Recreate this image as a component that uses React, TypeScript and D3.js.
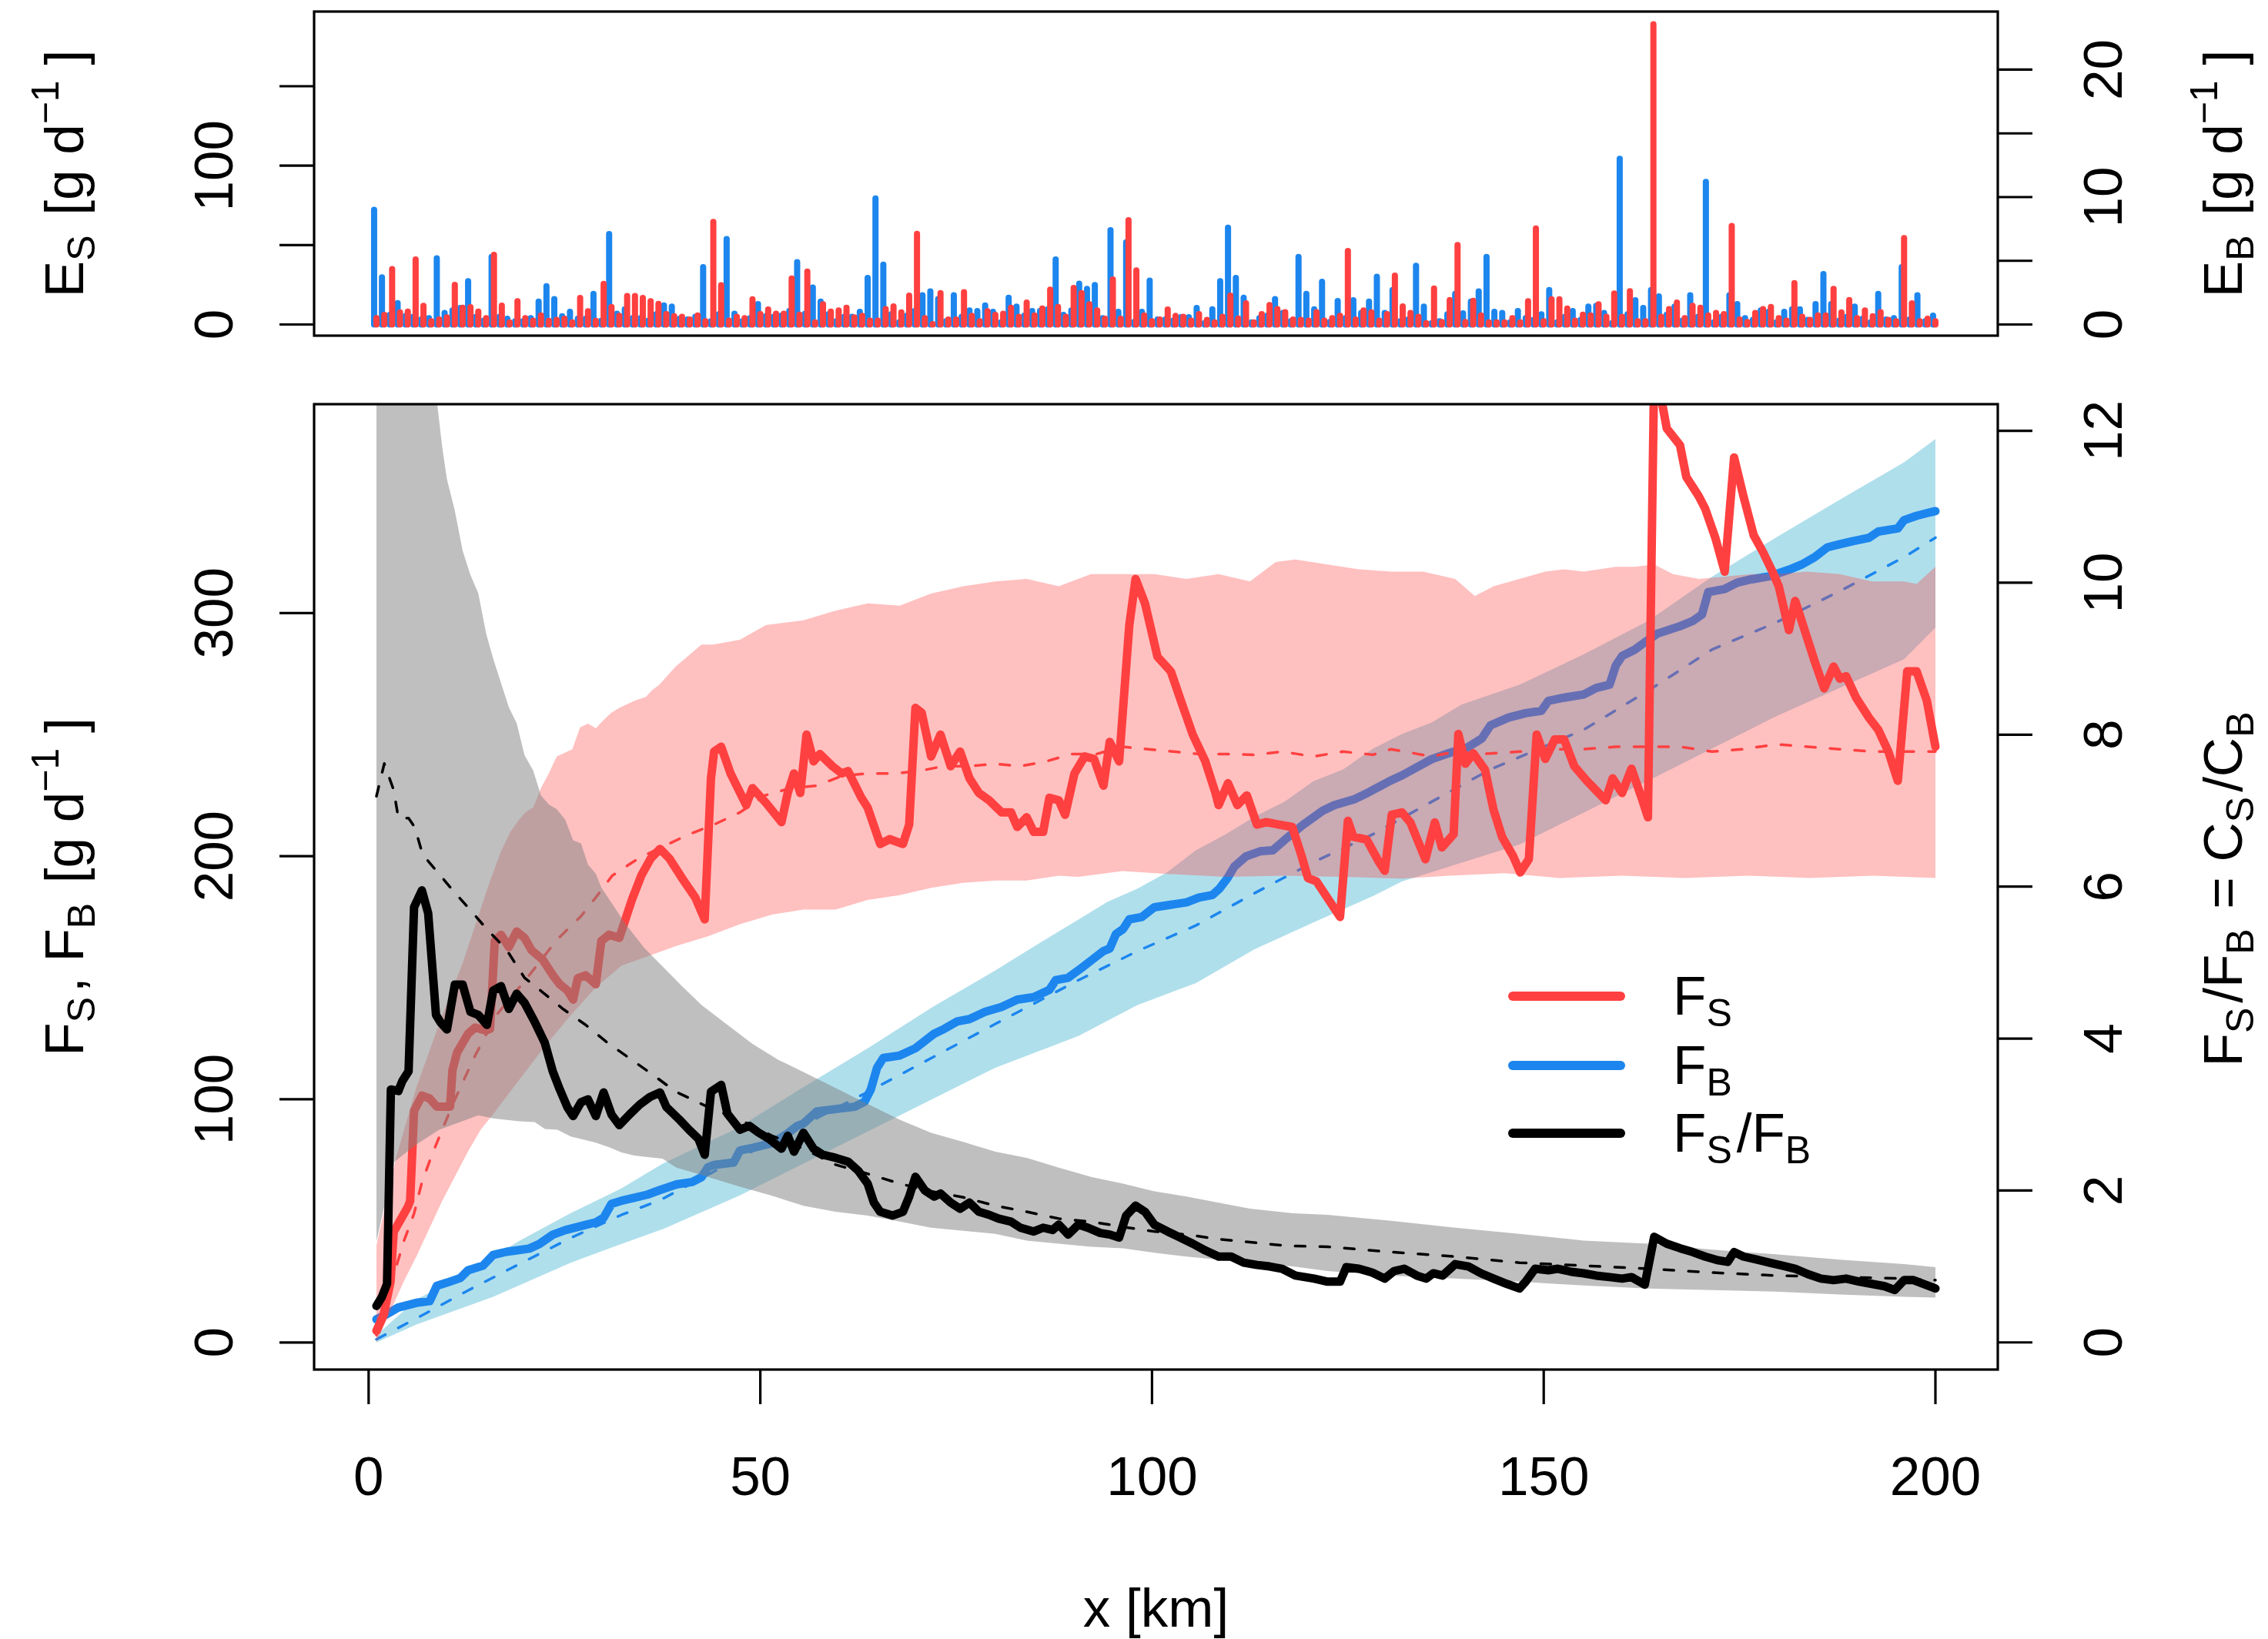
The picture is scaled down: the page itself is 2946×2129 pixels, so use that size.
import React from "react";
import * as d3 from "d3";

type Pt = [number, number];

// ---- Upper panel: daily inputs at each km (E_S on the left axis, E_B on the right axis)
const kmSteps: number[] = d3.range(1, 201);

const inputS: number[] = [
  4, 6, 34.9, 7.6, 8.1, 40.9, 11.7, 2, 3.2, 4.5,
  25, 10.5, 10.9, 8.1, 4, 43.8, 11.9, 1.3, 14.6, 4,
  2.4, 5.7, 2.3, 2.9, 3.6, 1.3, 16.7, 8.4, 2.3, 25.6,
  11, 5.4, 17.9, 17.9, 16.7, 14.6, 13, 6.5, 5.2, 4.9,
  3.2, 5.7, 2, 64.6, 24.7, 2.4, 4.9, 4, 15.9, 6.5,
  9.4, 6.8, 6.8, 28.9, 6.2, 33.3, 1.3, 12.7, 8.1, 8.9,
  10.5, 4.5, 5.4, 2.4, 2.4, 9.7, 11.4, 7.6, 18.2, 57.1,
  4, 0.3, 19.8, 3.2, 3.2, 20.3, 5.4, 2, 8.4, 6,
  6.8, 10.5, 4.9, 13.8, 5.7, 10, 21.9, 11, 4.9, 23,
  19.8, 12.7, 8.9, 3.6, 28.4, 3.6, 65.7, 34.1, 5.7, 2,
  3.2, 9.4, 5.4, 4.9, 2.4, 6.5, 2.9, 1.3, 4.9, 18.2,
  3.7, 13.3, 1.3, 6.5, 12.2, 9.7, 7.8, 3.2, 2.9, 2.4,
  7.8, 2.4, 4, 5.4, 46.3, 3.2, 8.9, 7.6, 2.4, 6.5,
  30.8, 11.4, 7.3, 4.9, 0.8, 22.7, 1.6, 15.4, 50, 1.6,
  14.9, 5.7, 1.3, 1.3, 1.3, 4, 1.3, 14.6, 60.4, 2,
  15.9, 15.9, 10, 2.4, 6.2, 5.7, 12.7, 4.9, 19.5, 4.9,
  21, 2, 2, 189, 4.9, 9.7, 13.8, 4, 11.7, 10.5,
  5.7, 7.3, 6.5, 62, 3.2, 1.6, 7.3, 9.7, 11, 4,
  2.4, 26, 4.9, 2.9, 5.7, 5.7, 22.4, 7.6, 15.4, 4,
  8.9, 5.2, 7.8, 2.9, 2, 54.4, 13.3, 2, 3.6, 2,
];

const inputB: number[] = [
  9.0, 3.7, 0.75, 1.68, 0.67, 0.6, 0.4, 0.5, 5.2, 0.9,
  1.1, 1.3, 3.4, 0.6, 0.3, 5.3, 0.6, 0.45, 0.25, 0.25,
  0.5, 1.8, 3.0, 2.0, 0.65, 1.0, 0.45, 0.45, 2.4, 0.3,
  7.1, 0.85, 1.2, 0.5, 0.5, 0.3, 0.8, 1.5, 1.4, 0.45,
  0.4, 0.6, 4.5, 0.25, 0.8, 6.7, 0.85, 0.25, 0.5, 1.6,
  0.65, 0.6, 0.7, 1.05, 4.9, 0.85, 2.9, 1.8, 0.8, 0.25,
  0.6, 0.6, 1.0, 3.65, 9.9, 4.7, 0.8, 0.16, 0.7, 1.05,
  2.3, 2.6, 2.0, 0.25, 2.3, 0.6, 1.1, 1.05, 1.5, 1.0,
  0.16, 2.1, 1.4, 0.7, 1.05, 1.05, 1.2, 5.1, 0.75, 1.1,
  3.2, 2.8, 3.1, 0.5, 7.4, 1.0, 6.45, 0.2, 1.0, 3.45,
  0.4, 0.4, 0.3, 0.57, 0.57, 1.3, 0.1, 1.2, 3.4, 7.6,
  3.65, 2.1, 0.16, 0.5, 0.7, 2.0, 0.9, 0.25, 5.3, 2.4,
  1.2, 3.35, 0.2, 1.85, 0.5, 1.9, 0.9, 1.8, 3.75, 0.9,
  2.7, 0.25, 0.4, 4.6, 1.4, 0.1, 0.25, 0.8, 2.4, 0.87,
  1.8, 2.6, 5.3, 1.0, 0.9, 0.16, 1.05, 0.5, 0.37, 0.8,
  2.7, 0.16, 0.6, 1.05, 0.37, 1.4, 1.46, 0.9, 0.1, 13.0,
  0.8, 1.9, 1.3, 2.7, 2.2, 0.77, 1.4, 0.3, 2.3, 0.6,
  11.2, 0.16, 0.6, 2.3, 1.6, 0.5, 0.37, 1.1, 1.0, 0.16,
  1.0, 1.2, 1.2, 0.37, 1.6, 3.95, 1.6, 0.3, 0.6, 1.4,
  0.45, 0.16, 2.4, 0.4, 0.5, 4.5, 0.4, 2.3, 0.25, 0.7,
];

// ---- Lower panel: observed fluxes F_S, F_B (left axis) and their ratio (right axis)
const fluxS: Pt[] = [
  [1, 4.8], [1.9, 11.2], [2.8, 25], [3.2, 45.5], [4.1, 50.6], [5.0, 55.7], [5.3, 58.2], [5.8, 95.2],
  [6.8, 101.5], [7.8, 100.3], [8.7, 97], [10.4, 97], [10.7, 112], [11.3, 119.3], [12.7, 127], [13.6, 129.5],
  [15.0, 128.3], [15.5, 129], [16.1, 165.1], [16.9, 167.7], [17.9, 162.6], [18.9, 169], [19.9, 166.4],
  [20.8, 161.3], [22.2, 157.5], [23.5, 151.1], [24.4, 147.3], [25.4, 144.7], [26.1, 141], [26.7, 149.8],
  [27.7, 151], [29.0, 147.3], [29.7, 165.1], [30.7, 167.7], [32.0, 166.4], [33.6, 182], [34.8, 192],
  [36, 199], [37.2, 203], [38.4, 199], [40, 191], [41.7, 183], [42.9, 174], [43.7, 232], [44.1, 243],
  [45, 245], [46.2, 234], [48.2, 221], [49, 228], [50.7, 222], [52.7, 214], [53.5, 226], [54.3, 234],
  [55.1, 226], [55.9, 250], [56.8, 239], [57.6, 242], [59.2, 237], [60.4, 234], [61.2, 235], [62.9, 224],
  [63.7, 220], [65.3, 205], [66.5, 207], [68.2, 205], [69, 213], [69.8, 261], [70.6, 259], [71.8, 241],
  [73, 250], [74.3, 237], [75.5, 243], [76.7, 232], [77.9, 226], [79.2, 223], [80.8, 218], [82, 218],
  [82.8, 212], [84, 216], [84.9, 210], [86.1, 210], [86.9, 224], [88.1, 223], [88.9, 217], [90.1, 234],
  [91.4, 241], [92.6, 240], [93.8, 229], [94.6, 247], [95.8, 239], [97.1, 295], [97.9, 314], [99.1, 304],
  [100.7, 282], [102.4, 276], [104, 261], [105.2, 250], [106.8, 239], [108.1, 226], [108.5, 221],
  [109.7, 230], [110.9, 221], [112.1, 225], [113.4, 213], [114.6, 214], [116.2, 213], [117.9, 212],
  [119.1, 200], [119.9, 191], [121, 189.6], [122.5, 182.3], [124, 175], [125, 214.5], [125.7, 208],
  [127.4, 206.8], [128.9, 198], [129.7, 194], [130.6, 217], [131.9, 218], [133, 213.7], [134.9, 198.7],
  [136.1, 213.9], [137, 203.6], [138.5, 209], [139.1, 250.2], [140, 238], [141, 242.3], [142.5, 235.6],
  [143.6, 219], [144.7, 207.8], [146.1, 200], [147, 193.3], [148.1, 198.8], [149.1, 250], [150.2, 240],
  [151.4, 248], [152.6, 248], [153.9, 237], [155.5, 231], [156.7, 227], [157.9, 223], [158.8, 232],
  [160, 226], [161.2, 236], [162.5, 224], [163.3, 216], [164.1, 400], [164.9, 390], [165.7, 376],
  [167.4, 369], [168.2, 356], [169.8, 348], [170.6, 343], [171.9, 331], [173.1, 317], [174.3, 364],
  [175.5, 348], [176.8, 332], [178, 325], [179.2, 317], [180, 311], [181.3, 293], [182.1, 305],
  [183.3, 293], [184.6, 280], [185.8, 269], [187, 278], [187.8, 273], [188.6, 274], [189.9, 265],
  [191.5, 257], [192.7, 252], [194, 243], [195.2, 231], [196.4, 276], [197.6, 276], [198.9, 264], [200, 245],
];

const fluxB: Pt[] = [
  [1, 9.5], [2.2, 11.4], [3.8, 14.4], [6.1, 16.3], [7.8, 17], [8.7, 23.3], [10, 24.6], [11.7, 26.5],
  [12.7, 29.7], [14.6, 31.6], [15.9, 36], [17.6, 37.3], [19.2, 38], [20.5, 38.6], [21.8, 40.5], [23.5, 44.3],
  [25.1, 46.2], [27.4, 48.1], [29, 49.4], [30, 51.3], [31, 57], [32.3, 58.3], [33.9, 59.5], [35.6, 60.8],
  [37.2, 62.7], [39.3, 65], [41.3, 66], [42.5, 68], [43.3, 72], [44.1, 73], [46.6, 74], [47.4, 79],
  [49, 80], [51.5, 82], [53.5, 86], [54.7, 89], [55.5, 90], [57.2, 95], [59.6, 96], [62.1, 97],
  [63.3, 99], [64.1, 104], [64.9, 113], [65.7, 117], [67.8, 118], [69.8, 121], [71, 124], [72.2, 127],
  [73.5, 129], [75.1, 132], [76.7, 133], [78.7, 136], [80.8, 138], [82.8, 141], [84.9, 142], [86.9, 145],
  [87.7, 149], [89.3, 150], [91, 154], [92.6, 158], [93.8, 161], [94.6, 162], [95.4, 168], [96.3, 170],
  [97.1, 174], [98.7, 175], [100.3, 179], [102.4, 180], [104.4, 181], [106, 183], [107.7, 184],
  [108.6, 186.6], [109.6, 190.8], [110.5, 195.7], [112, 199.9], [113.8, 202], [115.4, 202.4],
  [116.9, 206.6], [119.2, 212.7], [121.8, 218.7], [123.3, 221], [125.9, 223.5], [127.5, 226],
  [128.9, 228.4], [130.4, 231], [131.9, 233.2], [135.7, 239.9], [137.9, 242.4], [140.3, 244.8],
  [142.1, 248.4], [143.2, 253.8], [145.5, 257], [147.7, 258.8], [149.7, 259.8], [150.6, 263.9],
  [152.6, 265.2], [155.1, 266.5], [156.7, 269.2], [158.4, 270.5], [159.2, 278.4], [160, 282.3],
  [161.6, 284.9], [163.3, 288.9], [164.5, 291.5], [167.4, 294.6], [169, 296.7], [170.2, 299.4],
  [171, 308.6], [173.1, 309.9], [174.7, 312.5], [176.4, 313.8], [178.8, 315.1], [181.3, 317.8],
  [182.9, 319.9], [184.6, 323], [186.2, 327], [187.8, 328.3], [189.5, 329.6], [191.5, 330.9],
  [192.7, 333.5], [195.2, 334.8], [196, 338.2], [197.6, 340], [199.3, 341.4], [200, 341.9],
];

const ratioSB: Pt[] = [
  [1, 0.48], [1.7, 0.6], [2.35, 0.77], [2.84, 3.33], [3.8, 3.31], [4.3, 3.44], [5.1, 3.57], [5.8, 5.73],
  [6.8, 5.95], [7.6, 5.65], [8.6, 4.31], [9.2, 4.21], [10, 4.12], [11, 4.71], [12, 4.71], [13, 4.35],
  [14, 4.31], [15.1, 4.18], [15.9, 4.63], [16.9, 4.69], [17.9, 4.39], [18.9, 4.59], [19.9, 4.47],
  [21.2, 4.22], [22.5, 3.94], [23.5, 3.57], [24.4, 3.33], [25.4, 3.09], [26.1, 2.98], [27.1, 3.16],
  [28, 3.2], [29, 2.98], [30, 3.29], [31, 3.0], [32, 2.86], [33.3, 3.0], [34.6, 3.13], [35.9, 3.23],
  [37.2, 3.29], [38, 3.1], [39.7, 2.93], [40.9, 2.8], [42.1, 2.68], [42.9, 2.47], [43.7, 3.3], [45, 3.39],
  [45.8, 3.01], [47.4, 2.8], [48.6, 2.85], [49.8, 2.76], [51.1, 2.68], [52.7, 2.55], [53.5, 2.72],
  [54.3, 2.51], [55.5, 2.76], [56.8, 2.55], [58, 2.47], [59.6, 2.43], [61.2, 2.38], [62.5, 2.26],
  [63.7, 2.09], [64.5, 1.84], [65.3, 1.72], [66.9, 1.67], [68.2, 1.72], [69, 1.92], [69.8, 2.18],
  [71, 2.0], [72.2, 1.92], [73, 1.96], [74.3, 1.84], [75.5, 1.76], [76.7, 1.84], [77.9, 1.72],
  [79.2, 1.68], [80.4, 1.63], [82, 1.59], [83.2, 1.51], [84.9, 1.46], [86.1, 1.51], [87.3, 1.48],
  [88.1, 1.55], [89.3, 1.42], [90.6, 1.55], [91.8, 1.51], [93.4, 1.44], [94.6, 1.42], [95.8, 1.38],
  [96.7, 1.67], [97.9, 1.8], [99.1, 1.72], [100.3, 1.55], [102, 1.46], [103.6, 1.38], [105.2, 1.3],
  [106.8, 1.21], [108.5, 1.13], [110.1, 1.13], [111.7, 1.05], [113.4, 1.02], [115, 1.0], [116.6, 0.97],
  [118.3, 0.88], [120.7, 0.84], [122.4, 0.8], [124, 0.8], [124.8, 0.99], [126.4, 0.97], [128.1, 0.92],
  [129.7, 0.84], [130.9, 0.94], [132.2, 0.97], [133.8, 0.88], [135, 0.84], [135.9, 0.91], [137.1, 0.88],
  [138.7, 1.03], [140.4, 1.0], [142, 0.91], [143.6, 0.84], [145.3, 0.77], [146.9, 0.71], [147.7, 0.8],
  [148.9, 0.97], [150.6, 0.95], [151.8, 0.97], [153.5, 0.93], [155.1, 0.91], [156.7, 0.88], [158.4, 0.86],
  [160, 0.84], [161.2, 0.86], [162.9, 0.76], [164.1, 1.39], [165.7, 1.3], [167.4, 1.24], [169, 1.19],
  [170.6, 1.13], [172.3, 1.08], [173.5, 1.06], [174.3, 1.19], [175.5, 1.13], [177.2, 1.09], [178.8, 1.05],
  [180.5, 1.01], [182.1, 0.97], [183.7, 0.9], [185.4, 0.84], [187, 0.82], [188.6, 0.84], [190.3, 0.8],
  [191.9, 0.77], [193.5, 0.74], [194.8, 0.69], [196, 0.82], [197.2, 0.82], [198.5, 0.77], [200, 0.71],
];

// ---- Ensemble means (dashed)
const meanS: Pt[] = [
  [1, 3], [1.2, 6.1], [4.5, 41.7], [5.8, 53], [6.8, 65.9], [8.1, 77.3], [9.4, 87.5], [10.7, 97.7],
  [12.3, 109], [13.6, 118], [16.3, 134.6], [19.9, 148.6], [24.1, 165.8], [27.1, 175.3], [29, 183],
  [31.1, 192], [34.4, 199], [37.6, 204], [40.9, 209], [44.1, 213], [47.4, 218], [50.6, 225], [53.9, 228],
  [57.2, 229], [60.4, 233], [63.7, 234], [67, 234], [70.2, 235], [73.4, 237], [76.7, 237], [79.9, 238],
  [83.2, 237], [86.5, 239], [89.7, 242], [92.9, 242], [96.2, 245], [99.5, 244], [102.7, 243], [106, 242],
  [109.2, 242], [113.1, 241.7], [116.6, 243], [120.6, 241], [124.4, 243], [128.2, 241.7], [130.5, 244],
  [135.7, 241], [138.7, 243], [142, 242], [146.9, 243], [151, 244], [155.1, 244], [159.2, 245],
  [163.3, 245], [167.4, 245], [171.5, 243], [175.5, 244], [179.6, 246], [183.7, 245], [187.8, 244],
  [191.9, 243], [196, 243], [200, 243],
];

const meanB: Pt[] = [
  [1, 1.3], [6.1, 9.9], [12.7, 21.4], [19.2, 32.2], [25.8, 43], [32.3, 52.5], [37.2, 58.5], [47.4, 76],
  [63.7, 103], [80, 131], [90.6, 149], [98.1, 160.9], [105.6, 171.5], [113.1, 184.8], [120.6, 197.5],
  [128.2, 209], [135.7, 222.4], [143.2, 235.7], [150, 245], [155.1, 252], [163.3, 268], [171.5, 285],
  [179.6, 296], [187.8, 309], [196, 323], [200, 331],
];

const meanRatio: Pt[] = [
  [1, 7.19], [2, 7.62], [3.2, 7.27], [3.8, 6.9], [5.1, 6.9], [5.9, 6.78], [6.9, 6.42], [8.8, 6.19],
  [10.5, 5.98], [13, 5.69], [15, 5.45], [17.6, 5.17], [19.9, 4.8], [22.2, 4.61], [24.8, 4.39],
  [27.7, 4.18], [30.3, 3.96], [33.3, 3.74], [36.2, 3.53], [39.2, 3.3], [43.3, 3.1], [47.4, 2.93],
  [51.5, 2.72], [55.5, 2.55], [59.6, 2.34], [63.7, 2.22], [67.8, 2.09], [71.8, 1.99], [75.9, 1.91],
  [80, 1.8], [84, 1.72], [88.1, 1.63], [92.2, 1.59], [96.3, 1.52], [100.4, 1.46], [104.4, 1.42],
  [108.5, 1.36], [112.5, 1.32], [117.4, 1.27], [122.4, 1.26], [130.5, 1.19], [138.7, 1.13],
  [146.9, 1.05], [155.1, 1.01], [163.3, 0.97], [171.5, 0.92], [179.6, 0.88], [187.8, 0.86],
  [196, 0.84], [200, 0.82],
];

// ---- Ensemble envelopes (upper / lower edges)
const bandSUpper: Pt[] = [
  [1, 40], [3.5, 76], [6.1, 105], [9.4, 134.6], [12, 156], [15.3, 188], [16.9, 202], [18.1, 210],
  [19.2, 215], [20, 218], [21, 220], [22, 228], [23, 234], [24, 241], [25, 242.5], [26, 244], [27, 253],
  [28, 254.5], [29, 252.6], [30, 256], [31, 259], [32, 261], [34, 264], [35.4, 265.5], [36.1, 268],
  [37.1, 270.5], [39.2, 278], [42.5, 287], [44, 287], [47.4, 289], [50.7, 295], [55.5, 297], [59.6, 301],
  [63.7, 304], [67.8, 303], [71.8, 308], [75.9, 311], [80, 313], [84, 314], [88.1, 311], [92.2, 316],
  [96.3, 316], [100.3, 316], [104.4, 314], [108.5, 316], [112.5, 313], [115.8, 321], [118.3, 322],
  [122.4, 320], [126.4, 318], [130.5, 317], [134.6, 317], [138.7, 314], [141.2, 307], [143.6, 311],
  [146.9, 314], [150.2, 317], [152.6, 318], [155.1, 317], [159.2, 319], [161.6, 319], [164.1, 320],
  [166.5, 316], [169.8, 314], [173.1, 315], [176.4, 316], [179.6, 316], [183.7, 317], [187.8, 316],
  [191.9, 313], [196, 313], [197.6, 312], [200, 319],
];
const bandSLower: Pt[] = [
  [1, 0], [4.5, 25.2], [6.1, 35.4], [9.4, 58.3], [12.7, 78.6], [14.3, 87.5], [15.9, 93.9], [18.6, 105.4],
  [22.5, 121.8], [25.8, 134.6], [29, 146], [32.3, 155], [35.6, 158.8], [39.2, 163], [43.3, 167],
  [47.4, 172], [51.5, 176], [55.5, 178], [59.6, 178], [63.7, 182], [67.8, 184], [71.8, 187], [75.9, 189],
  [80, 190], [84, 190], [88.1, 192], [90.6, 191.5], [96.2, 193.9], [101.9, 192.7], [109.4, 191.5],
  [116.9, 192], [124.4, 191.5], [131.9, 190.8], [138, 192], [145, 193], [152, 191], [160, 192],
  [168, 191], [176, 192], [184, 191], [192, 192], [200, 191],
];
const bandBUpper: Pt[] = [
  [1, 3], [6.1, 17.7], [12.7, 29], [19.2, 41.7], [25.8, 53.2], [32.3, 63.4], [37.5, 73.5], [47, 88],
  [55, 104], [63.7, 121], [72, 138], [80, 153], [86, 165], [90.6, 173.9], [94.3, 181.2], [98.1, 186.6],
  [101.9, 193.3], [105.6, 202.4], [109.4, 209], [113.1, 216.3], [116.9, 222.4], [120.6, 230.8],
  [124.4, 235.7], [128.2, 244.2], [131.9, 250.2], [135.7, 255], [139.5, 262.3], [146.9, 270.5],
  [155.1, 283], [163.3, 296.7], [171.5, 315], [179.6, 331], [187.8, 346.6], [196, 362], [200, 371.6],
];
const bandBLower: Pt[] = [
  [1, 0], [6.1, 7.4], [15.9, 18.8], [25.8, 32.8], [32.3, 40.5], [37.7, 46.8], [47.4, 60.5], [63.7, 86.8],
  [80, 113], [90.6, 126], [98.1, 138.7], [105.6, 147.8], [113.1, 161.7], [120.6, 172.7], [128.2, 183.6],
  [131.9, 189.6], [146.9, 204.8], [163.3, 231], [179.6, 257.4], [196, 281], [200, 294],
];
const bandRUpper: Pt[] = [
  [1, 30], [5, 18], [8.7, 12.4], [9.4, 11.78], [10, 11.36], [11, 10.95], [12, 10.42], [13, 10.1],
  [14, 9.86], [15, 9.33], [15.9, 9.0], [16.9, 8.68], [17.9, 8.36], [18.9, 8.15], [19.9, 7.73], [21, 7.53],
  [22, 7.2], [23, 7.08], [24, 7.02], [25.1, 6.88], [26.1, 6.61], [27.1, 6.57], [28, 6.29], [29, 6.17],
  [29.7, 5.99], [31.1, 5.77], [32.7, 5.52], [35.2, 5.19], [37.6, 4.94], [40, 4.69], [42.5, 4.44],
  [45.8, 4.18], [49, 3.93], [52.3, 3.72], [55.5, 3.56], [59.6, 3.35], [63.7, 3.14], [67.8, 2.93],
  [71.8, 2.76], [75.9, 2.64], [80, 2.51], [84, 2.43], [88.1, 2.3], [92.2, 2.18], [96.3, 2.09],
  [100.3, 1.99], [104.4, 1.92], [108.5, 1.84], [112.5, 1.76], [118, 1.7], [122.4, 1.68], [130.5, 1.6],
  [138.7, 1.51], [146.9, 1.43], [155.1, 1.34], [163.3, 1.3], [171.5, 1.22], [179.6, 1.16],
  [187.8, 1.09], [196, 1.03], [200, 0.99],
];
const bandRLower: Pt[] = [
  [1, 1.33], [3.3, 2.38], [6, 2.6], [9, 2.8], [14, 2.99], [15.9, 2.95], [19.2, 2.91], [21.2, 2.9],
  [22.5, 2.81], [24.1, 2.8], [25.8, 2.71], [27.4, 2.67], [29, 2.63], [30.7, 2.57], [32.3, 2.5],
  [33.9, 2.46], [35.6, 2.44], [37.5, 2.42], [39.3, 2.3], [43.3, 2.18], [47.4, 2.05], [51.5, 1.93],
  [55.5, 1.8], [59.6, 1.72], [63.7, 1.67], [67.8, 1.59], [71.8, 1.51], [75.9, 1.47], [80, 1.43],
  [84, 1.34], [88.1, 1.3], [92.2, 1.26], [96.3, 1.24], [100.3, 1.18], [104.4, 1.13], [108.5, 1.09],
  [112.5, 1.05], [118, 1.0], [122.4, 0.94], [130.5, 0.88], [138.7, 0.84], [146.9, 0.8], [155.1, 0.75],
  [163.3, 0.71], [171.5, 0.69], [179.6, 0.67], [187.8, 0.63], [196, 0.6], [200, 0.59],
];

// ---- Axis ticks
const xTicks = [0, 50, 100, 150, 200];
const topLeftTicks = [0, 50, 100, 150];
const topLeftLabels = [0, 100];
const topRightTicks = [0, 5, 10, 15, 20];
const topRightLabels = [0, 10, 20];
const botLeftTicks = [0, 100, 200, 300];
const botRightTicks = [0, 2, 4, 6, 8, 10, 12];

const RED = "#FF4040";
const BLUE = "#1C86EE";
const FONT = "'Liberation Sans', Arial, Helvetica, sans-serif";
const FS = 71;
const FSS = 50;

function Sub({ t }: { t: string }) {
  return (
    <>
      <tspan fontSize={FSS} dy={15}>{t}</tspan>
      <tspan dy={-15}>{"\u200A"}</tspan>
    </>
  );
}

export default function App() {
  const W = 2946;
  const H = 2129;
  const L = 408;
  const R = 2595;
  const topT = 15;
  const topB = 436;
  const botT = 525;
  const botB = 1779;
  const tick = 45;

  const x = d3.scaleLinear().domain([-6.96, 207.96]).range([L, R]);
  const yS = d3.scaleLinear().domain([-7.03, 197.0]).range([topB, topT]);
  const yB = d3.scaleLinear().domain([-0.876, 24.56]).range([topB, topT]);
  const yF = d3.scaleLinear().domain([-11.15, 385.9]).range([botB, botT]);
  const yR = d3.scaleLinear().domain([-0.357, 12.35]).range([botB, botT]);

  const lineF = d3.line<Pt>().x((d) => x(d[0])).y((d) => yF(d[1]));
  const lineR = d3.line<Pt>().x((d) => x(d[0])).y((d) => yR(d[1]));
  const bandPath = (up: Pt[], lo: Pt[], gen: d3.Line<Pt>) =>
    (gen([...up, ...lo.slice().reverse()]) || "") + "Z";

  const dash = "13 19";

  const rotLabel = (tx: number, ty: number, content: React.ReactNode, key?: string | number) => (
    <text
      key={key}
      transform={`translate(${tx},${ty}) rotate(-90)`}
      textAnchor="middle"
      fontSize={FS}
    >
      {content}
    </text>
  );

  return (
    <svg
      width={W}
      height={H}
      viewBox={`0 0 ${W} ${H}`}
      style={{ position: "absolute", left: 0, top: 0, background: "#fff" }}
      fontFamily={FONT}
    >
      <defs>
        <clipPath id="clipTop">
          <rect x={L} y={topT} width={R - L} height={topB - topT} />
        </clipPath>
        <clipPath id="clipBot">
          <rect x={L} y={botT} width={R - L} height={botB - botT} />
        </clipPath>
      </defs>
      <rect x={0} y={0} width={W} height={H} fill="#fff" />

      {/* upper panel: daily inputs */}
      <g clipPath="url(#clipTop)" strokeLinecap="round">
        {kmSteps.map((k, i) => (
          <line key={`b${k}`} x1={x(k - 0.3)} x2={x(k - 0.3)} y1={yB(0)} y2={yB(inputB[i])} stroke={BLUE} strokeWidth={8} />
        ))}
        {kmSteps.map((k, i) => (
          <line key={`s${k}`} x1={x(k)} x2={x(k)} y1={yS(0)} y2={yS(inputS[i])} stroke={RED} strokeWidth={8} />
        ))}
      </g>
      <rect x={L} y={topT} width={R - L} height={topB - topT} fill="none" stroke="#000" strokeWidth={3.2} />
      {topLeftTicks.map((v) => (
        <line key={`tl${v}`} x1={L - tick} x2={L} y1={yS(v)} y2={yS(v)} stroke="#000" strokeWidth={3.2} />
      ))}
      {topLeftLabels.map((v) => rotLabel(302, yS(v), String(v), `tll${v}`))}
      {topRightTicks.map((v) => (
        <line key={`tr${v}`} x1={R} x2={R + tick} y1={yB(v)} y2={yB(v)} stroke="#000" strokeWidth={3.2} />
      ))}
      {topRightLabels.map((v) => rotLabel(2756, yB(v), String(v), `trl${v}`))}
      {rotLabel(108, (topT + topB) / 2, (
        <>
          E<Sub t="S" /> [g d<tspan fontSize={FSS} dy={-32}>{"\u2212"}1</tspan>
          <tspan dy={32}> ]</tspan>
        </>
      ))}
      {rotLabel(2912, (topT + topB) / 2, (
        <>
          E<Sub t="B" /> [g d<tspan fontSize={FSS} dy={-32}>{"\u2212"}1</tspan>
          <tspan dy={32}> ]</tspan>
        </>
      ))}

      {/* lower panel: fluxes, envelopes and ratio */}
      <g clipPath="url(#clipBot)" fill="none" strokeLinejoin="round" strokeLinecap="round">
        <path d={bandPath(bandBUpper, bandBLower, lineF)} fill="rgb(176,223,236)" stroke="none" />
        <path d={lineF(meanB) || ""} stroke={BLUE} strokeWidth={3.5} strokeDasharray={dash} />
        <path d={lineF(fluxB) || ""} stroke={BLUE} strokeWidth={11} />
        <path d={bandPath(bandSUpper, bandSLower, lineF)} fill="rgba(255,64,64,0.33)" stroke="none" />
        <path d={lineF(meanS) || ""} stroke={RED} strokeWidth={3.5} strokeDasharray={dash} />
        <path d={lineF(fluxS) || ""} stroke={RED} strokeWidth={11} />
        <path d={bandPath(bandRUpper, bandRLower, lineR)} fill="rgba(127,127,127,0.5)" stroke="none" />
        <path d={lineR(meanRatio) || ""} stroke="#000" strokeWidth={3.5} strokeDasharray={dash} />
        <path d={lineR(ratioSB) || ""} stroke="#000" strokeWidth={11} />
      </g>
      <rect x={L} y={botT} width={R - L} height={botB - botT} fill="none" stroke="#000" strokeWidth={3.2} />

      {botLeftTicks.map((v) => (
        <line key={`bl${v}`} x1={L - tick} x2={L} y1={yF(v)} y2={yF(v)} stroke="#000" strokeWidth={3.2} />
      ))}
      {botLeftTicks.map((v) => rotLabel(302, yF(v), String(v), `bll${v}`))}
      {botRightTicks.map((v) => (
        <line key={`br${v}`} x1={R} x2={R + tick} y1={yR(v)} y2={yR(v)} stroke="#000" strokeWidth={3.2} />
      ))}
      {botRightTicks.map((v) => rotLabel(2756, yR(v), String(v), `brl${v}`))}
      {xTicks.map((v) => (
        <line key={`xt${v}`} x1={x(v)} x2={x(v)} y1={botB} y2={botB + tick} stroke="#000" strokeWidth={3.2} />
      ))}
      {xTicks.map((v) => (
        <text key={`xl${v}`} x={x(v)} y={1942} textAnchor="middle" fontSize={FS}>{v}</text>
      ))}
      <text x={(L + R) / 2} y={2113} textAnchor="middle" fontSize={FS}>x [km]</text>

      {rotLabel(108, (botT + botB) / 2, (
        <>
          F<Sub t="S" />, F<Sub t="B" /> [g d<tspan fontSize={FSS} dy={-32}>{"\u2212"}1</tspan>
          <tspan dy={32}> ]</tspan>
        </>
      ))}
      {rotLabel(2912, (botT + botB) / 2, (
        <>
          F<Sub t="S" />/F<Sub t="B" /> = C<Sub t="S" />/C<Sub t="B" />
        </>
      ))}

      {/* legend */}
      <g strokeLinecap="round">
        <line x1={1965} x2={2105} y1={1294} y2={1294} stroke={RED} strokeWidth={12} />
        <line x1={1965} x2={2105} y1={1384} y2={1384} stroke={BLUE} strokeWidth={12} />
        <line x1={1965} x2={2105} y1={1472} y2={1472} stroke="#000" strokeWidth={12} />
      </g>
      <text x={2173} y={1318} fontSize={FS}>F<Sub t="S" /></text>
      <text x={2173} y={1408} fontSize={FS}>F<Sub t="B" /></text>
      <text x={2173} y={1496} fontSize={FS}>F<Sub t="S" />/F<Sub t="B" /></text>
    </svg>
  );
}
